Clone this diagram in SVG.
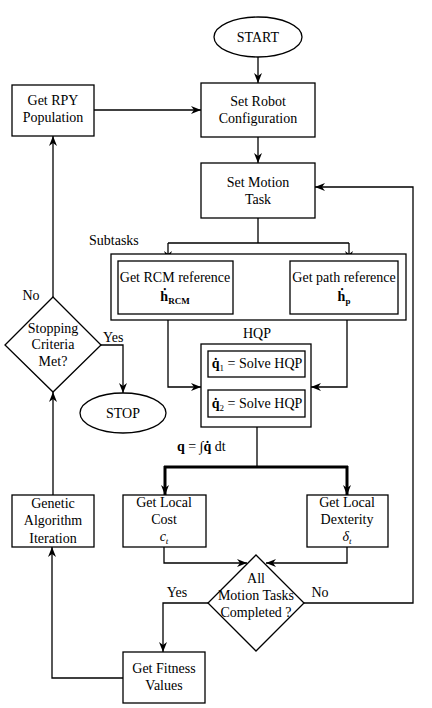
<svg xmlns="http://www.w3.org/2000/svg" width="432" height="708" viewBox="0 0 432 708">
<defs>
<marker id="ah" markerUnits="userSpaceOnUse" markerWidth="10" markerHeight="8" refX="10" refY="4" orient="auto">
<path d="M0,0 L10,4 L0,8 L3,4 z" fill="#000"/>
</marker>
</defs>
<style>
rect, ellipse, polygon { fill: #fff; stroke: #000; stroke-width: 1.3; }
text { font-family: "Liberation Serif", "Times New Roman", serif; font-size: 14px; fill: #000; text-anchor: middle; }
.c path { fill: none; stroke: #000; stroke-width: 1.3; }
.c path.arr { marker-end: url(#ah); }
.c path.thick { stroke-width: 3; }
.lbl { text-anchor: start; }
.b { font-weight: bold; }
.i { font-style: italic; }
</style>
<rect x="0" y="0" width="432" height="708" style="fill:#fff;stroke:none"/>

<g class="c" id="connectors">
<path class="arr" d="M258,57 L258,83"/>
<path class="arr" d="M94,110 L201,110"/>
<path class="arr" d="M258,137 L258,163"/>
<path d="M258,218 L258,243 M168,243 L349,243"/>
<path class="arr" d="M168,243 L168,261"/>
<path class="arr" d="M349,243 L349,261"/>
<path class="arr" d="M168,314 L168,387 L201,387"/>
<path class="arr" d="M347,314 L347,387 L311,387"/>
<path class="arr" d="M257,377 L257,390"/>
<path d="M257,427 L257,467"/>
<path class="thick" d="M164,467 L348,467"/>
<path class="thick arr" d="M165,466 L165,495"/>
<path class="thick arr" d="M347,466 L347,495"/>
<path class="arr" d="M164,547 L164,563 L247,563"/>
<path class="arr" d="M347,547 L347,563 L266,563"/>
<path class="arr" d="M304,603 L413,603 L413,187 L315,187"/>
<path class="arr" d="M208,603 L163,603 L163,652"/>
<path class="arr" d="M123,678 L52,678 L52,547"/>
<path class="arr" d="M53,495 L53,392"/>
<path class="arr" d="M53,297 L53,136"/>
<path class="arr" d="M101,345 L123,345 L123,393"/>
</g>

<g id="start"><ellipse cx="258" cy="37" rx="44" ry="20"/><text x="258" y="42">START</text></g>
<g id="set-robot"><rect x="201" y="83" width="114" height="54"/><text x="258" y="106">Set Robot</text><text x="258" y="123">Configuration</text></g>
<g id="get-rpy"><rect x="12" y="85" width="82" height="51"/><text x="53" y="105">Get RPY</text><text x="53" y="122">Population</text></g>
<g id="set-motion"><rect x="201" y="163" width="114" height="55"/><text x="258" y="187">Set Motion</text><text x="258" y="204">Task</text></g>

<g id="subtasks">
<text class="lbl" x="89" y="245">Subtasks</text>
<rect x="111" y="254" width="295" height="66"/>
<g id="rcm-ref"><rect x="118" y="261" width="115" height="53"/><text x="175" y="282">Get RCM reference</text><text x="175" y="301"><tspan class="b">ḣ</tspan><tspan class="b" font-size="9" dy="3">RCM</tspan></text></g>
<g id="path-ref"><rect x="290" y="261" width="108" height="53"/><text x="344" y="282">Get path reference</text><text x="344" y="301"><tspan class="b">ḣ</tspan><tspan class="b" font-size="9" dy="3">p</tspan></text></g>
</g>

<g id="hqp">
<text x="257" y="338">HQP</text>
<rect x="201" y="344" width="110" height="83"/>
<g id="hqp1"><rect x="208" y="351" width="97" height="26"/><text x="257" y="368"><tspan class="b">q̇</tspan><tspan font-size="9" dy="3">1</tspan><tspan dy="-3"> = Solve HQP</tspan></text></g>
<g id="hqp2"><rect x="208" y="390" width="97" height="27"/><text x="257" y="408"><tspan class="b">q̇</tspan><tspan font-size="9" dy="3">2</tspan><tspan dy="-3"> = Solve HQP</tspan></text></g>
</g>

<text class="lbl" x="177" y="451"><tspan class="b">q</tspan> = ∫<tspan class="b">q̇</tspan> dt</text>

<g id="local-cost"><rect x="123" y="495" width="83" height="52"/><text x="164" y="507">Get Local</text><text x="164" y="524">Cost</text><text x="164" y="541"><tspan class="i">c</tspan><tspan class="i" font-size="9" dy="3">t</tspan></text></g>
<g id="local-dex"><rect x="307" y="495" width="81" height="52"/><text x="347" y="507">Get Local</text><text x="347" y="524">Dexterity</text><text x="347" y="541"><tspan class="i">δ</tspan><tspan class="i" font-size="9" dy="3">t</tspan></text></g>

<g id="all-tasks"><polygon points="256,555 304,603 256,651 208,603"/><text x="256" y="583">All</text><text x="256" y="600">Motion Tasks</text><text x="256" y="617">Completed ?</text></g>
<text x="177" y="597">Yes</text>
<text x="320" y="597">No</text>

<g id="fitness"><rect x="123" y="652" width="82" height="51"/><text x="164" y="673">Get Fitness</text><text x="164" y="690">Values</text></g>
<g id="genetic"><rect x="12" y="495" width="82" height="52"/><text x="53" y="508">Genetic</text><text x="53" y="525">Algorithm</text><text x="53" y="543">Iteration</text></g>

<g id="stopping"><polygon points="53,297 101,345 53,392 5,345"/><text x="53" y="333">Stopping</text><text x="53" y="349">Criteria</text><text x="53" y="366">Met?</text></g>
<text x="31" y="300">No</text>
<text class="lbl" x="103" y="342">Yes</text>

<g id="stop"><ellipse cx="123" cy="413" rx="43" ry="20"/><text x="123" y="418">STOP</text></g>
</svg>
